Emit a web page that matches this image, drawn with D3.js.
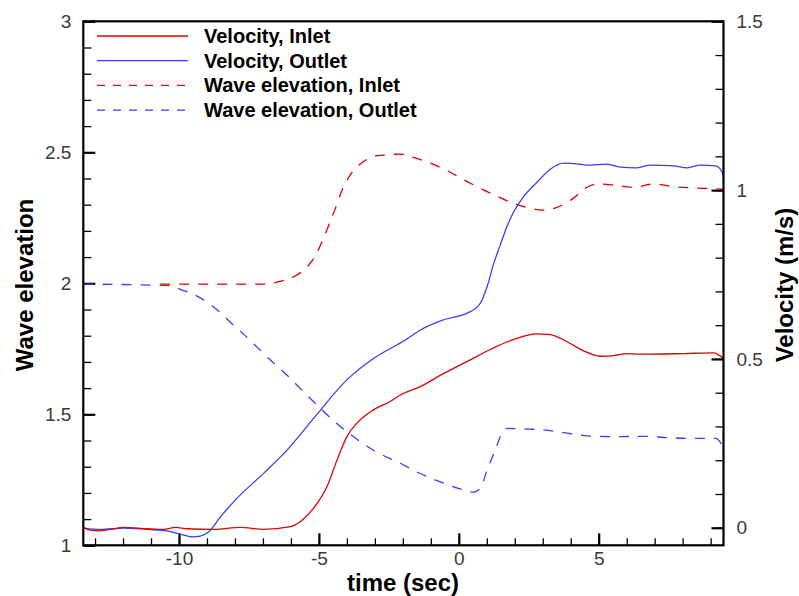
<!DOCTYPE html>
<html>
<head>
<meta charset="utf-8">
<script src="https://cdn.jsdelivr.net/npm/d3@7"></script>
<style>
  body { margin: 0; background: #fff; }
  svg text { font-family: "Liberation Sans", Arial, sans-serif; }
</style>
</head>
<body>
<div id="chart"></div>
<script>
// ---------- DATA ----------
// [time (sec), value]
var velInlet = [
  [-13.41, 0.001], [-13.17, -0.007], [-12.81, -0.009], [-12.46, -0.005], [-11.98, 0.001],
  [-11.14, -0.003], [-10.55, -0.005], [-10.13, 0.001], [-9.71, -0.003], [-8.76, -0.005],
  [-7.81, 0.001], [-6.98, -0.005], [-6.02, 0.003], [-5.67, 0.018], [-5.19, 0.058],
  [-4.71, 0.122], [-4.35, 0.201], [-4.00, 0.270], [-3.64, 0.310], [-3.05, 0.349],
  [-2.45, 0.374], [-2.09, 0.393], [-1.38, 0.418], [-0.54, 0.457], [0.29, 0.492],
  [1.13, 0.528], [1.96, 0.558], [2.79, 0.574], [3.27, 0.572], [3.87, 0.551],
  [4.46, 0.524], [5.06, 0.508], [5.53, 0.510], [6.01, 0.516], [6.49, 0.514],
  [8.03, 0.516], [9.11, 0.518], [9.46, 0.501]
];
var velOutlet = [
  [-13.41, -0.002], [-12.81, -0.005], [-11.98, -0.001], [-11.14, -0.005], [-10.43, -0.009],
  [-9.95, -0.019], [-9.53, -0.027], [-9.24, -0.025], [-8.94, -0.012], [-8.52, 0.032],
  [-7.93, 0.087], [-6.98, 0.161], [-6.14, 0.230], [-5.19, 0.324], [-4.00, 0.438],
  [-3.05, 0.501], [-1.91, 0.556], [-1.32, 0.588], [-0.54, 0.616], [0.41, 0.640],
  [0.77, 0.665], [1.01, 0.714], [1.25, 0.783], [1.48, 0.837], [1.72, 0.892],
  [1.96, 0.935], [2.31, 0.980], [2.80, 1.024], [3.27, 1.062], [3.75, 1.080],
  [4.22, 1.078], [4.58, 1.074], [5.30, 1.077], [5.77, 1.068], [6.37, 1.066],
  [6.84, 1.074], [7.68, 1.072], [8.16, 1.066], [8.63, 1.074], [9.17, 1.072],
  [9.41, 1.054], [9.46, 1.040]
];
var waveInlet = [
  [-10.67, 1.997], [-6.85, 1.997], [-6.44, 2.006], [-5.90, 2.025], [-5.42, 2.063],
  [-5.13, 2.104], [-4.89, 2.159], [-4.65, 2.222], [-4.41, 2.286], [-4.17, 2.356],
  [-3.88, 2.414], [-3.40, 2.465], [-2.92, 2.487], [-2.09, 2.493], [-1.62, 2.481],
  [-1.08, 2.461], [-0.42, 2.430], [0.41, 2.382], [1.01, 2.350], [1.48, 2.327],
  [2.02, 2.303], [2.56, 2.286], [3.03, 2.279], [3.51, 2.290], [4.10, 2.325],
  [4.52, 2.363], [4.94, 2.379], [5.53, 2.375], [6.25, 2.366], [6.96, 2.379],
  [7.68, 2.369], [8.39, 2.364], [9.11, 2.361], [9.44, 2.359], [9.46, 2.331]
];
var waveOutlet = [
  [-13.41, 1.997], [-10.31, 1.991], [-9.95, 1.977], [-9.42, 1.955], [-8.94, 1.924],
  [-8.52, 1.888], [-8.17, 1.852], [-7.69, 1.806], [-7.10, 1.745], [-6.62, 1.696],
  [-6.08, 1.643], [-5.55, 1.586], [-4.95, 1.523], [-4.36, 1.465], [-3.76, 1.414],
  [-3.05, 1.363], [-2.09, 1.313], [-1.38, 1.274], [-0.66, 1.242], [-0.01, 1.217],
  [0.53, 1.203], [0.77, 1.217], [1.01, 1.287], [1.30, 1.363], [1.54, 1.427],
  [1.72, 1.446], [2.67, 1.443], [3.39, 1.436], [4.10, 1.424], [4.82, 1.416],
  [5.77, 1.415], [6.73, 1.416], [7.44, 1.411], [8.39, 1.408], [9.17, 1.408],
  [9.46, 1.375]
];

var xTicks = [-10, -5, 0, 5];
var xMinorTicks = d3.range(-13, 10, 1);
var leftTicks = [1, 1.5, 2, 2.5, 3];
var leftMinorTicks = d3.range(10, 31, 1).map(function(d){ return d / 10; });
var rightTicks = [0, 0.5, 1, 1.5];
var rightMinorTicks = d3.range(0, 16, 1).map(function(d){ return d / 10; });

var legendLabels = ['Velocity, Inlet', 'Velocity, Outlet', 'Wave elevation, Inlet', 'Wave elevation, Outlet'];

// ---------- PAGE ----------
var W = 799, H = 596;
var plotL = 83.3, plotR = 723.5, plotT = 21.3, plotB = 545.3;

var svg = d3.select('#chart').append('svg')
    .attr('width', W)
    .attr('height', H);

var x = d3.scaleLinear().domain([-13.42, 9.46]).range([plotL, plotR]);
var yL = d3.scaleLinear().domain([1, 3]).range([plotB, plotT]);
var yR = d3.scaleLinear().domain([-0.052, 1.5]).range([plotB, plotT]);

var fmt = function(d){ return String(d); };

function styleAxis(g, w) {
    g.select('.domain').remove();
    g.selectAll('line').attr('stroke', '#000').attr('stroke-width', w);
    g.selectAll('text')
        .attr('font-size', 19)
        .attr('fill', '#3a3a3a')
        .style('font-family', '"Liberation Sans", Arial, sans-serif');
}

// minor ticks
svg.append('g').attr('transform', 'translate(0,' + plotB + ')')
    .call(d3.axisBottom(x).tickValues(xMinorTicks).tickSize(-7).tickFormat(''))
    .call(styleAxis, 1.3);
svg.append('g').attr('transform', 'translate(' + plotL + ',0)')
    .call(d3.axisLeft(yL).tickValues(leftMinorTicks).tickSize(-8).tickFormat(''))
    .call(styleAxis, 1.3);
svg.append('g').attr('transform', 'translate(' + plotR + ',0)')
    .call(d3.axisRight(yR).tickValues(rightMinorTicks).tickSize(-8).tickFormat(''))
    .call(styleAxis, 1.3);

// major ticks
svg.append('g').attr('transform', 'translate(0,' + plotB + ')')
    .call(d3.axisBottom(x).tickValues(xTicks).tickSize(-12).tickPadding(6).tickFormat(fmt))
    .call(styleAxis, 2.2);
svg.append('g').attr('transform', 'translate(' + plotL + ',0)')
    .call(d3.axisLeft(yL).tickValues(leftTicks).tickSize(-12).tickPadding(12).tickFormat(fmt))
    .call(styleAxis, 2.2);
svg.append('g').attr('transform', 'translate(' + plotR + ',0)')
    .call(d3.axisRight(yR).tickValues(rightTicks).tickSize(-12).tickPadding(13).tickFormat(fmt))
    .call(styleAxis, 2.2);

// clip + lines
svg.append('clipPath').attr('id', 'plotClip')
  .append('rect')
    .attr('x', plotL).attr('y', plotT)
    .attr('width', plotR - plotL).attr('height', plotB - plotT);

var lineL = d3.line().x(function(d){ return x(d[0]); }).y(function(d){ return yL(d[1]); }).curve(d3.curveMonotoneX);
var lineR = d3.line().x(function(d){ return x(d[0]); }).y(function(d){ return yR(d[1]); }).curve(d3.curveMonotoneX);

var red = '#e00000', blue = '#3c3cff';

var series = [
    {data: waveOutlet, line: lineL, color: blue, dash: '10,9'},
    {data: waveInlet, line: lineL, color: red, dash: '10,9'},
    {data: velOutlet, line: lineR, color: blue, dash: null},
    {data: velInlet, line: lineR, color: red, dash: null}
];

svg.append('g').attr('clip-path', 'url(#plotClip)')
  .selectAll('path')
  .data(series)
  .enter()
  .append('path')
    .attr('d', function(d){ return d.line(d.data); })
    .attr('fill', 'none')
    .attr('stroke', function(d){ return d.color; })
    .attr('stroke-width', 1.3)
    .attr('stroke-dasharray', function(d){ return d.dash; });

// frame
svg.append('rect')
    .attr('x', plotL).attr('y', plotT)
    .attr('width', plotR - plotL).attr('height', plotB - plotT)
    .attr('fill', 'none')
    .attr('stroke', '#000')
    .attr('stroke-width', 2.2);

// legend
var legendColors = [red, blue, red, blue];
var legendDash = [null, null, '8,8', '8,8'];
var leg = svg.append('g').selectAll('g')
    .data(legendLabels)
    .enter()
    .append('g')
    .attr('transform', function(d, i){ return 'translate(0,' + (36 + i * 24.7) + ')'; });
leg.append('line')
    .attr('x1', 97).attr('x2', 188)
    .attr('stroke', function(d, i){ return legendColors[i]; })
    .attr('stroke-width', 1.3)
    .attr('stroke-dasharray', function(d, i){ return legendDash[i]; });
leg.append('text')
    .attr('x', 204).attr('y', 7)
    .attr('font-size', 20)
    .attr('font-weight', 'bold')
    .attr('fill', '#000')
    .text(function(d){ return d; });

// axis titles
svg.append('text')
    .attr('x', 403).attr('y', 591)
    .attr('text-anchor', 'middle')
    .attr('font-size', 24).attr('font-weight', 'bold')
    .text('time (sec)');
svg.append('text')
    .attr('transform', 'translate(33,285) rotate(-90)')
    .attr('text-anchor', 'middle')
    .attr('font-size', 24).attr('font-weight', 'bold')
    .text('Wave elevation');
svg.append('text')
    .attr('transform', 'translate(793,285) rotate(-90)')
    .attr('text-anchor', 'middle')
    .attr('font-size', 24).attr('font-weight', 'bold')
    .text('Velocity (m/s)');
</script>
</body>
</html>
